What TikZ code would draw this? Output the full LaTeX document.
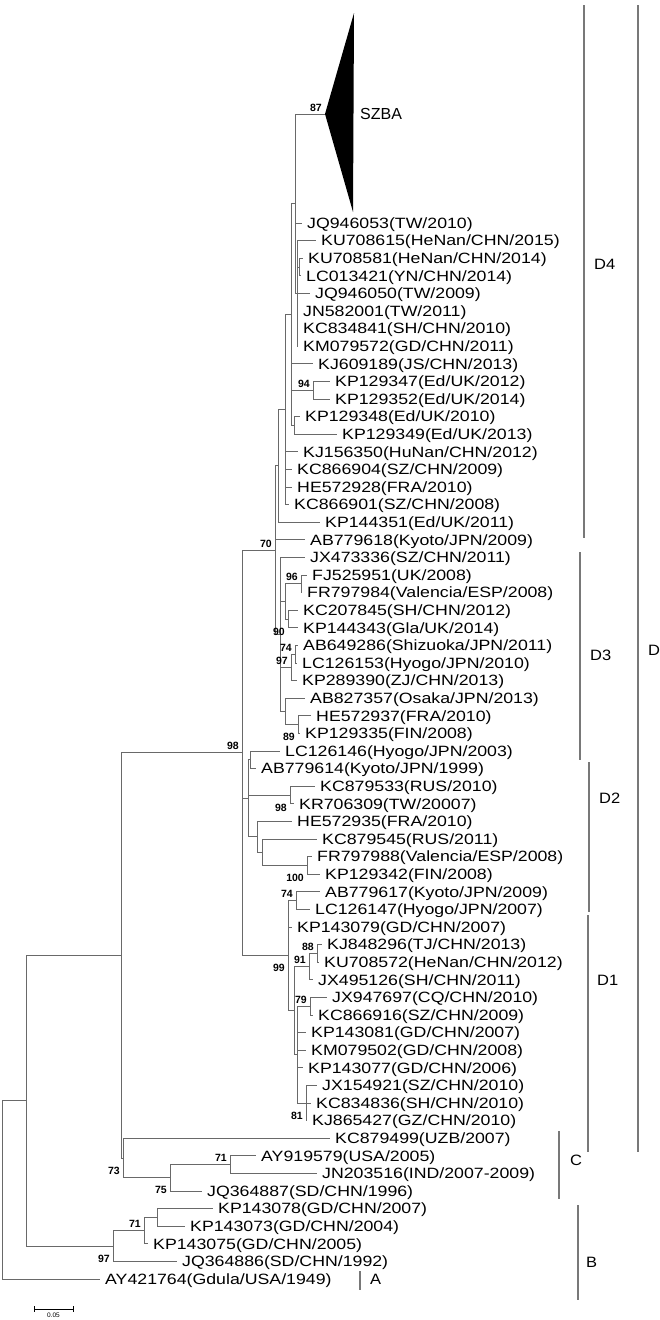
\documentclass[tikz,border=0pt]{standalone}
\usepackage{fontspec}
\newfontfamily\leaffont[FakeStretch=1.19]{Liberation Sans}
\newfontfamily\numfont{Liberation Sans}
\newfontfamily\cladefont[FakeStretch=1.1]{Liberation Sans}
\definecolor{brc}{RGB}{105,105,105}
\definecolor{barc}{RGB}{120,120,120}
\begin{document}
\begin{tikzpicture}[x=1pt,y=-1pt,
  br/.style={draw=brc, line width=0.9pt},
  bar/.style={draw=barc, line width=1.4pt},
  leaf/.style={anchor=west, inner xsep=5pt, inner ysep=0pt, text height=10.7pt, text depth=0pt,
    font=\leaffont\fontsize{14.9}{16}\selectfont},
  bsa/.style={anchor=base east, inner sep=0pt, xshift=-3pt, yshift=3pt, font=\numfont\bfseries\fontsize{10.5}{11}\selectfont},
  bsb/.style={anchor=base east, inner sep=0pt, xshift=-3pt, yshift=-16pt, font=\numfont\bfseries\fontsize{10.5}{11}\selectfont},
  clade/.style={anchor=west, inner sep=0pt, font=\cladefont\fontsize{15}{16}\selectfont}]
\useasboundingbox (0,0) rectangle (659,1320);

% ---------- leaves ----------
\node[leaf] (l0)  at (302,223.0)  {JQ946053(TW/2010)};
\node[leaf] (l1)  at (316,240.6)  {KU708615(HeNan/CHN/2015)};
\node[leaf] (l2)  at (303,258.2)  {KU708581(HeNan/CHN/2014)};
\node[leaf] (l3)  at (301,275.8)  {LC013421(YN/CHN/2014)};
\node[leaf] (l4)  at (310,293.4)  {JQ946050(TW/2009)};
\node[leaf] (l5)  at (298,311.0)  {JN582001(TW/2011)};
\node[leaf] (l6)  at (298,328.6)  {KC834841(SH/CHN/2010)};
\node[leaf] (l7)  at (298,346.2)  {KM079572(GD/CHN/2011)};
\node[leaf] (l8)  at (313,363.8)  {KJ609189(JS/CHN/2013)};
\node[leaf] (l9)  at (330,381.4)  {KP129347(Ed/UK/2012)};
\node[leaf] (l10) at (330,399.0)  {KP129352(Ed/UK/2014)};
\node[leaf] (l11) at (300,416.6)  {KP129348(Ed/UK/2010)};
\node[leaf] (l12) at (337,434.2)  {KP129349(Ed/UK/2013)};
\node[leaf] (l13) at (298,451.8)  {KJ156350(HuNan/CHN/2012)};
\node[leaf] (l14) at (292,469.4)  {KC866904(SZ/CHN/2009)};
\node[leaf] (l15) at (292,487.0)  {HE572928(FRA/2010)};
\node[leaf] (l16) at (289,504.6)  {KC866901(SZ/CHN/2008)};
\node[leaf] (l17) at (320,522.2)  {KP144351(Ed/UK/2011)};
\node[leaf] (l18) at (305,539.8)  {AB779618(Kyoto/JPN/2009)};
\node[leaf] (l19) at (305,557.4)  {JX473336(SZ/CHN/2011)};
\node[leaf] (l20) at (307,575.0)  {FJ525951(UK/2008)};
\node[leaf] (l21) at (302,592.6)  {FR797984(Valencia/ESP/2008)};
\node[leaf] (l22) at (298,610.2)  {KC207845(SH/CHN/2012)};
\node[leaf] (l23) at (298,627.8)  {KP144343(Gla/UK/2014)};
\node[leaf] (l24) at (298,645.4)  {AB649286(Shizuoka/JPN/2011)};
\node[leaf] (l25) at (297,663.0)  {LC126153(Hyogo/JPN/2010)};
\node[leaf] (l26) at (297,680.6)  {KP289390(ZJ/CHN/2013)};
\node[leaf] (l27) at (305,698.2)  {AB827357(Osaka/JPN/2013)};
\node[leaf] (l28) at (311,715.8)  {HE572937(FRA/2010)};
\node[leaf] (l29) at (300,733.4)  {KP129335(FIN/2008)};
\node[leaf] (l30) at (280,751.0)  {LC126146(Hyogo/JPN/2003)};
\node[leaf] (l31) at (256,768.6)  {AB779614(Kyoto/JPN/1999)};
\node[leaf] (l32) at (315,786.2)  {KC879533(RUS/2010)};
\node[leaf] (l33) at (294,803.8)  {KR706309(TW/20007)};
\node[leaf] (l34) at (292,821.4)  {HE572935(FRA/2010)};
\node[leaf] (l35) at (317,839.0)  {KC879545(RUS/2011)};
\node[leaf] (l36) at (312,856.6)  {FR797988(Valencia/ESP/2008)};
\node[leaf] (l37) at (320,874.2)  {KP129342(FIN/2008)};
\node[leaf] (l38) at (320,891.8)  {AB779617(Kyoto/JPN/2009)};
\node[leaf] (l39) at (310,909.4)  {LC126147(Hyogo/JPN/2007)};
\node[leaf] (l40) at (292,927.0)  {KP143079(GD/CHN/2007)};
\node[leaf] (l41) at (322,944.6)  {KJ848296(TJ/CHN/2013)};
\node[leaf] (l42) at (319,962.2)  {KU708572(HeNan/CHN/2012)};
\node[leaf] (l43) at (313,979.8)  {JX495126(SH/CHN/2011)};
\node[leaf] (l44) at (327,997.4)  {JX947697(CQ/CHN/2010)};
\node[leaf] (l45) at (313,1015.0) {KC866916(SZ/CHN/2009)};
\node[leaf] (l46) at (306,1032.6) {KP143081(GD/CHN/2007)};
\node[leaf] (l47) at (306,1050.2) {KM079502(GD/CHN/2008)};
\node[leaf] (l48) at (303,1067.8) {KP143077(GD/CHN/2006)};
\node[leaf] (l49) at (317,1085.4) {JX154921(SZ/CHN/2010)};
\node[leaf] (l50) at (311,1103.0) {KC834836(SH/CHN/2010)};
\node[leaf] (l51) at (307,1120.6) {KJ865427(GZ/CHN/2010)};
\node[leaf] (l52) at (330,1138.2) {KC879499(UZB/2007)};
\node[leaf] (l53) at (256,1155.8) {AY919579(USA/2005)};
\node[leaf] (l54) at (317,1173.4) {JN203516(IND/2007-2009)};
\node[leaf] (l55) at (202,1191.0) {JQ364887(SD/CHN/1996)};
\node[leaf] (l56) at (213,1208.6) {KP143078(GD/CHN/2007)};
\node[leaf] (l57) at (185,1226.2) {KP143073(GD/CHN/2004)};
\node[leaf] (l58) at (148,1243.8) {KP143075(GD/CHN/2005)};
\node[leaf] (l59) at (177,1261.4) {JQ364886(SD/CHN/1992)};
\node[leaf] (l60) at (100,1279.0) {AY421764(Gdula/USA/1949)};

% ---------- collapsed SZBA clade ----------
\coordinate (sz) at (325,114);
\coordinate (szt) at (354,13);
\coordinate (szb) at (353,212);
\fill[black] (sz) -- (szt) -- (szb) -- cycle;
\node[anchor=west, inner xsep=6pt, inner ysep=0pt, font=\numfont\fontsize{16}{17}\selectfont] (szba) at (354,114) {SZBA};

% ---------- internal nodes ----------
\coordinate (KULC) at (299,267.0);
\coordinate (G)    at (297,293.4);
\coordinate (P)    at (295,203.7);
\coordinate (N94)  at (313,390.2);
\coordinate (N48)  at (294,425.4);
\coordinate (R)    at (291,314.55);
\coordinate (S)    at (285,409.6);
\coordinate (D4n)  at (278,465.9);
\coordinate (N96)  at (301,583.8);
\coordinate (N90)  at (288,619.0);
\coordinate (U)    at (285,601.4);
\coordinate (N74a) at (295,654.2);
\coordinate (N97a) at (291,667.4);
\coordinate (N89)  at (298,724.6);
\coordinate (D3b)  at (285,711.4);
\coordinate (D3n)  at (280,634.4);
\coordinate (N70)  at (275,550.15);
\coordinate (d2a)  at (250,759.8);
\coordinate (N98b) at (290,795.0);
\coordinate (N100) at (307,865.4);
\coordinate (d2c)  at (262,852.2);
\coordinate (d2b)  at (257,836.8);
\coordinate (D2n)  at (248,798.3);
\coordinate (N74b) at (296,900.6);
\coordinate (N88)  at (317,953.4);
\coordinate (N91)  at (309,966.6);
\coordinate (N79)  at (310,1006.2);
\coordinate (N81)  at (306,1103.0);
\coordinate (D1c)  at (297,1054.6);
\coordinate (D1b)  at (294,1010.6);
\coordinate (N99)  at (288,955.6);
\coordinate (N98)  at (242,752.9);
\coordinate (N71c) at (230,1164.6);
\coordinate (N75)  at (170,1177.8);
\coordinate (N73)  at (123,1158.0);
\coordinate (DC)   at (121,955.45);
\coordinate (BB)   at (157,1217.4);
\coordinate (N71b) at (144,1230.6);
\coordinate (N97b) at (113,1246.0);
\coordinate (N1)   at (26,1100.7);
\coordinate (Root) at (2,1189.9);

% ---------- branches ----------
\draw[br] (KULC) |- (l2.west);  \draw[br] (KULC) |- (l3.west);
\draw[br] (G) |- (l1.west); \draw[br] (G) |- (KULC); \draw[br] (G) |- (l4.west);
\draw[br] (G) |- (l5.west); \draw[br] (G) |- (l6.west); \draw[br] (G) |- (l7.west);
\draw[br] (P) |- (sz); \draw[br] (P) |- (l0.west); \draw[br] (P) |- (G);
\draw[br] (N94) |- (l9.west); \draw[br] (N94) |- (l10.west);
\draw[br] (N48) |- (l11.west); \draw[br] (N48) |- (l12.west);
\draw[br] (R) |- (P); \draw[br] (R) |- (l8.west); \draw[br] (R) |- (N94); \draw[br] (R) |- (N48);
\draw[br] (S) |- (R); \draw[br] (S) |- (l13.west); \draw[br] (S) |- (l14.west);
\draw[br] (S) |- (l15.west); \draw[br] (S) |- (l16.west);
\draw[br] (D4n) |- (S); \draw[br] (D4n) |- (l17.west);
\draw[br] (N96) |- (l20.west); \draw[br] (N96) |- (l21.west);
\draw[br] (N90) |- (l22.west); \draw[br] (N90) |- (l23.west);
\draw[br] (U) |- (N96); \draw[br] (U) |- (N90);
\draw[br] (N74a) |- (l24.west); \draw[br] (N74a) |- (l25.west);
\draw[br] (N97a) |- (N74a); \draw[br] (N97a) |- (l26.west);
\draw[br] (N89) |- (l28.west); \draw[br] (N89) |- (l29.west);
\draw[br] (D3b) |- (l27.west); \draw[br] (D3b) |- (N89);
\draw[br] (D3n) |- (l19.west); \draw[br] (D3n) |- (U); \draw[br] (D3n) |- (N97a); \draw[br] (D3n) |- (D3b);
\draw[br] (N70) |- (D4n); \draw[br] (N70) |- (l18.west); \draw[br] (N70) |- (D3n);
\draw[br] (d2a) |- (l30.west); \draw[br] (d2a) |- (l31.west);
\draw[br] (N98b) |- (l32.west); \draw[br] (N98b) |- (l33.west);
\draw[br] (N100) |- (l36.west); \draw[br] (N100) |- (l37.west);
\draw[br] (d2c) |- (l35.west); \draw[br] (d2c) |- (N100);
\draw[br] (d2b) |- (l34.west); \draw[br] (d2b) |- (d2c);
\draw[br] (D2n) |- (d2a); \draw[br] (D2n) |- (N98b); \draw[br] (D2n) |- (d2b);
\draw[br] (N74b) |- (l38.west); \draw[br] (N74b) |- (l39.west);
\draw[br] (N88) |- (l41.west); \draw[br] (N88) |- (l42.west);
\draw[br] (N91) |- (N88); \draw[br] (N91) |- (l43.west);
\draw[br] (N79) |- (l44.west); \draw[br] (N79) |- (l45.west);
\draw[br] (N81) |- (l49.west); \draw[br] (N81) |- (l50.west); \draw[br] (N81) |- (l51.west);
\draw[br] (D1c) |- (N79); \draw[br] (D1c) |- (l46.west); \draw[br] (D1c) |- (l47.west);
\draw[br] (D1c) |- (l48.west); \draw[br] (D1c) |- (N81);
\draw[br] (D1b) |- (N91); \draw[br] (D1b) |- (D1c);
\draw[br] (N99) |- (N74b); \draw[br] (N99) |- (l40.west); \draw[br] (N99) |- (D1b);
\draw[br] (N98) |- (N70); \draw[br] (N98) |- (D2n); \draw[br] (N98) |- (N99);
\draw[br] (N71c) |- (l53.west); \draw[br] (N71c) |- (l54.west);
\draw[br] (N75) |- (N71c); \draw[br] (N75) |- (l55.west);
\draw[br] (N73) |- (l52.west); \draw[br] (N73) |- (N75);
\draw[br] (DC) |- (N98); \draw[br] (DC) |- (N73);
\draw[br] (BB) |- (l56.west); \draw[br] (BB) |- (l57.west);
\draw[br] (N71b) |- (BB); \draw[br] (N71b) |- (l58.west);
\draw[br] (N97b) |- (N71b); \draw[br] (N97b) |- (l59.west);
\draw[br] (N1) |- (DC); \draw[br] (N1) |- (N97b);
\draw[br] (Root) |- (N1); \draw[br] (Root) |- (l60.west);

% ---------- bootstrap values ----------
\node[bsa] (b87)  at (sz)   {87};
\node[bsa] (b94)  at (N94)  {94};
\node[bsa] (b96)  at (N96)  {96};
\node[bsb] (b90)  at (N90)  {90};
\node[bsa] (b74a) at (N74a) {74};
\node[bsa] (b97a) at (N97a) {97};
\node[bsb] (b89)  at (N89)  {89};
\node[bsa] (b70)  at (N70)  {70};
\node[bsa] (b98)  at (N98)  {98};
\node[bsb] (b98b) at (N98b) {98};
\node[bsb] (b100) at (N100) {100};
\node[bsa] (b74b) at (N74b) {74};
\node[bsa] (b88)  at (N88)  {88};
\node[bsa] (b91)  at (N91)  {91};
\node[bsb] (b99)  at (N99)  {99};
\node[bsa] (b79)  at (N79)  {79};
\node[bsb] (b81)  at (N81)  {81};
\node[bsb] (b73)  at (N73)  {73};
\node[bsb] (b75)  at (N75)  {75};
\node[bsa] (b71c) at (N71c) {71};
\node[bsb] (b97b) at (N97b) {97};
\node[bsa] (b71b) at (N71b) {71};

% ---------- clade bars ----------
\draw[bar] (584,5) -- (584,538);
\node[clade] (cD4) at (594,264) {D4};
\draw[bar] (580,552) -- (580,760);
\node[clade] (cD3) at (590,655) {D3};
\draw[bar] (589,762) -- (589,912);
\node[clade] (cD2) at (599,798) {D2};
\draw[bar] (588,915) -- (588,1152);
\node[clade] (cD1) at (597,980) {D1};
\draw[bar] (638,5) -- (638,1152);
\node[clade] (cD) at (648,650) {D};
\draw[bar] (559,1131) -- (559,1199);
\node[clade] (cC) at (570,1160) {C};
\draw[bar] (578,1205) -- (578,1300);
\node[clade] (cB) at (586,1262) {B};
\draw[bar] (360,1271) -- (360,1290);
\node[clade] (cA) at (370,1279) {A};

% ---------- scale bar ----------
\coordinate (sb1) at (34,1309);
\coordinate (sb2) at (73,1309);
\draw[draw=black, line width=0.8pt] (sb1) -- (sb2);
\draw[draw=black, line width=0.8pt] ([yshift=3pt]sb1) -- ([yshift=-3pt]sb1);
\draw[draw=black, line width=0.8pt] ([yshift=3pt]sb2) -- ([yshift=-3pt]sb2);
\node[anchor=north, inner sep=0pt, font=\numfont\fontsize{6.5}{7}\selectfont] (sbl) at (53.5,1313) {0.05};
\end{tikzpicture}
\end{document}
